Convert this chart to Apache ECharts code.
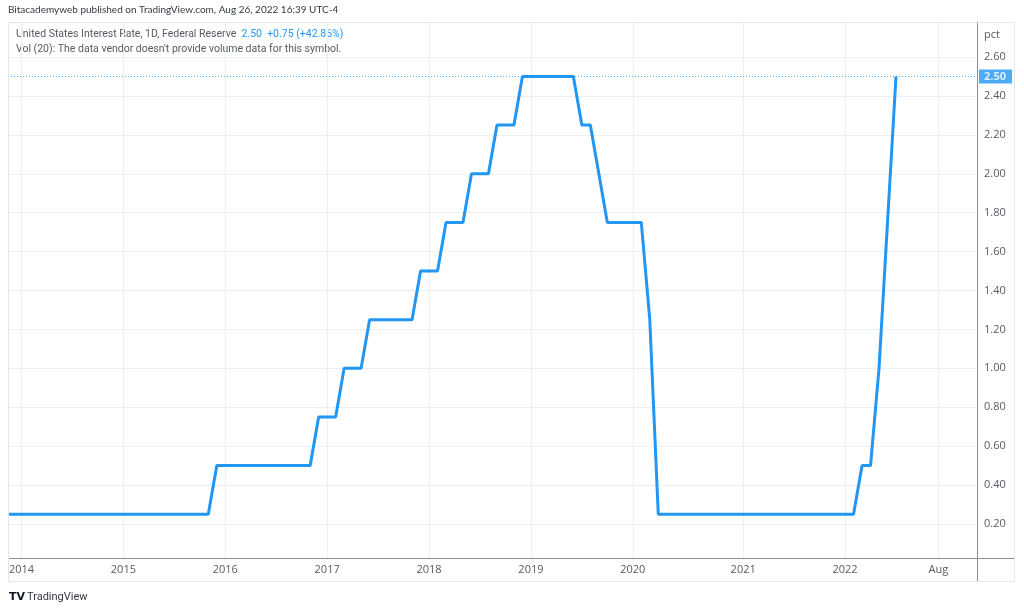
<!DOCTYPE html>
<html>
<head>
<meta charset="utf-8">
<script src="https://cdn.jsdelivr.net/npm/echarts@6/dist/echarts.min.js"></script>
<style>
html,body{margin:0;padding:0;background:#fff;}
#chart{width:1024px;height:613px;}
</style>
</head>
<body>
<div id="chart"></div>
<script>
// Bars (monthly closes; March 2020 has two bars for the two emergency cuts)
const dates = [
  '2013-11','2013-12',
  '2014-01','2014-02','2014-03','2014-04','2014-05','2014-06','2014-07','2014-08','2014-09','2014-10','2014-11','2014-12',
  '2015-01','2015-02','2015-03','2015-04','2015-05','2015-06','2015-07','2015-08','2015-09','2015-10','2015-11','2015-12',
  '2016-01','2016-02','2016-03','2016-04','2016-05','2016-06','2016-07','2016-08','2016-09','2016-10','2016-11','2016-12',
  '2017-01','2017-02','2017-03','2017-04','2017-05','2017-06','2017-07','2017-08','2017-09','2017-10','2017-11','2017-12',
  '2018-01','2018-02','2018-03','2018-04','2018-05','2018-06','2018-07','2018-08','2018-09','2018-10','2018-11','2018-12',
  '2019-01','2019-02','2019-03','2019-04','2019-05','2019-06','2019-07','2019-08','2019-09','2019-10','2019-11','2019-12',
  '2020-01','2020-02','2020-03-03','2020-03-16','2020-04','2020-05','2020-06','2020-07','2020-08','2020-09','2020-10','2020-11','2020-12',
  '2021-01','2021-02','2021-03','2021-04','2021-05','2021-06','2021-07','2021-08','2021-09','2021-10','2021-11','2021-12',
  '2022-01','2022-02','2022-03','2022-04','2022-05','2022-06','2022-07'
];
const rates = [
  0.25,0.25,
  0.25,0.25,0.25,0.25,0.25,0.25,0.25,0.25,0.25,0.25,0.25,0.25,
  0.25,0.25,0.25,0.25,0.25,0.25,0.25,0.25,0.25,0.25,0.25,0.50,
  0.50,0.50,0.50,0.50,0.50,0.50,0.50,0.50,0.50,0.50,0.50,0.75,
  0.75,0.75,1.00,1.00,1.00,1.25,1.25,1.25,1.25,1.25,1.25,1.50,
  1.50,1.50,1.75,1.75,1.75,2.00,2.00,2.00,2.25,2.25,2.25,2.50,
  2.50,2.50,2.50,2.50,2.50,2.50,2.25,2.25,2.00,1.75,1.75,1.75,
  1.75,1.75,1.25,0.25,0.25,0.25,0.25,0.25,0.25,0.25,0.25,0.25,0.25,
  0.25,0.25,0.25,0.25,0.25,0.25,0.25,0.25,0.25,0.25,0.25,0.25,
  0.25,0.25,0.50,0.50,1.00,1.75,2.50
];
const xTickLabels = ['2014','2015','2016','2017','2018','2019','2020','2021','2022','Aug'];
const augBar = 110; // future-area bar where the reference shows "Aug"
const yTickValues = [0.20,0.40,0.60,0.80,1.00,1.20,1.40,1.60,1.80,2.00,2.20,2.40,2.60];
const lastValue = 2.50;
const legendName = 'United States Interest Rate, 1D, Federal Reserve';
const legendValue = '2.50  +0.75 (+42.86%)';

const xTickBars = xTickLabels.map(l => l === 'Aug' ? augBar : dates.indexOf(l + '-01'));
const labelByBar = {};
xTickBars.forEach((b, i) => { labelByBar[b] = xTickLabels[i]; });
const seriesData = rates.map((v, i) => [i, v]);

const FONT = '"Open Sans", sans-serif';
const HFONT = 'Lato, sans-serif';
const LFONT = 'Roboto, sans-serif';
const BLUE = '#2196f3';
const GRID = '#ebf0f4';
const TXT = '#555a63';

const chart = echarts.init(document.getElementById('chart'), null, {renderer: 'canvas'});
chart.setOption({
  animation: false,
  backgroundColor: '#ffffff',
  textStyle: {fontFamily: FONT},
  grid: {left: 8, right: 47, top: 22, bottom: 55, containLabel: false},
  xAxis: {
    type: 'value',
    min: 0.41,
    max: 114.54,
    axisLine: {show: true, lineStyle: {color: '#8a8e96', width: 1}},
    axisTick: {show: false, customValues: xTickBars},
    splitLine: {show: true, lineStyle: {color: GRID, width: 1}},
    axisLabel: {
      customValues: xTickBars,
      formatter: v => labelByBar[Math.round(v)] || '',
      color: TXT, fontSize: 11, fontFamily: FONT, margin: 6
    }
  },
  yAxis: {
    type: 'value',
    position: 'right',
    min: 0.0252,
    max: 2.78,
    axisLine: {show: true, lineStyle: {color: '#8a8e96', width: 1}},
    axisTick: {show: false, customValues: yTickValues},
    splitLine: {show: true, lineStyle: {color: GRID, width: 1}},
    axisLabel: {
      customValues: yTickValues,
      formatter: v => v.toFixed(2),
      color: TXT, fontSize: 11, fontFamily: FONT, margin: 7, align: 'left'
    }
  },
  series: [{
    type: 'line',
    data: seriesData,
    symbol: 'none',
    clip: true,
    lineStyle: {color: BLUE, width: 3},
    markLine: {
      silent: true,
      symbol: ['none', 'none'],
      data: [{yAxis: lastValue}],
      lineStyle: {color: BLUE, type: [1, 2], width: 1, opacity: 0.8},
      label: {
        show: true, position: 'end', distance: 2,
        formatter: lastValue.toFixed(2),
        color: '#ffffff', backgroundColor: BLUE, fontWeight: 'bold',
        fontSize: 11, fontFamily: FONT, padding: [2, 6, 1, 5]
      }
    }
  }],
  graphic: [
    {type: 'rect', silent: true, shape: {x: 0, y: 22, width: 8, height: 537},
     style: {fill: '#ffffff'}, z: 100},
    {type: 'rect', silent: true, shape: {x: 8.5, y: 22.5, width: 1006, height: 559},
     style: {fill: 'none', stroke: '#e3e6ec', lineWidth: 1}, z: 101},
    {type: 'line', silent: true, shape: {x1: 977, y1: 558.5, x2: 1015, y2: 558.5},
     style: {stroke: '#8a8e96', lineWidth: 1}},
    {type: 'line', silent: true, shape: {x1: 977.5, y1: 558, x2: 977.5, y2: 582},
     style: {stroke: '#8a8e96', lineWidth: 1}},
    {type: 'text', silent: true, left: 8, top: 5,
     style: {text: 'Bitacademyweb published on TradingView.com, Aug 26, 2022 16:39 UTC-4',
             fill: '#333840', font: '10px ' + HFONT}},
    {type: 'text', silent: true, left: 16, top: 29,
     style: {text: '{n|' + legendName + '}  {v|' + legendValue + '}',
             rich: {n: {fill: TXT, font: '10.5px ' + LFONT}, v: {fill: BLUE, font: '10.5px ' + LFONT}},
             font: '10.5px ' + LFONT}},
    {type: 'text', silent: true, left: 16, top: 44,
     style: {text: "Vol (20): The data vendor doesn't provide volume data for this symbol.",
             fill: TXT, font: '10.5px ' + LFONT}},
    {type: 'text', silent: true, left: 984, top: 29,
     style: {text: 'pct', fill: TXT, font: '11px ' + FONT}},
    {type: 'text', silent: true, left: 9, top: 592,
     style: {text: 'TV', fill: '#131722', font: '900 11px "DejaVu Sans", sans-serif'}},
    {type: 'text', silent: true, left: 27, top: 592,
     style: {text: 'TradingView', fill: '#333840', font: '11px ' + LFONT}}
  ]
});
</script>
</body>
</html>
